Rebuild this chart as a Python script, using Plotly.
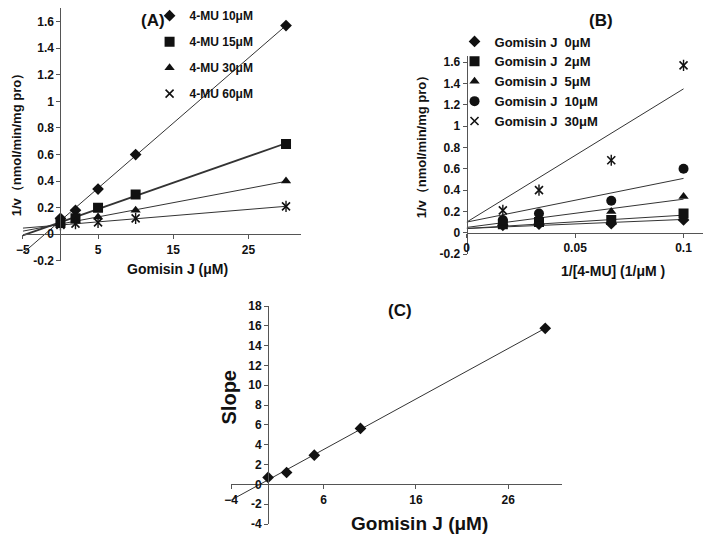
import numpy as np
import plotly.graph_objects as go

# ---------------- data ----------------
gomisin_conc = [0, 2, 5, 10, 30]          # µM
mu_conc = [10, 15, 30, 60]                # 4-MU µM
mu_labels = ["4-MU 10μM", "4-MU 15μM", "4-MU 30μM", "4-MU 60μM"]
gj_labels = ["Gomisin J\u00a0 0μM", "Gomisin J\u00a0 2μM", "Gomisin J\u00a0 5μM",
             "Gomisin J\u00a0 10μM", "Gomisin J\u00a0 30μM"]

# 1/v values (rows follow gomisin_conc) for each 4-MU concentration
inv_v_mu10 = [0.12, 0.18, 0.34, 0.60, 1.57]
inv_v_mu15 = [0.085, 0.12, 0.20, 0.30, 0.68]
inv_v_mu30 = [0.08, 0.10, 0.13, 0.18, 0.40]
inv_v_mu60 = [0.07, 0.08, 0.09, 0.12, 0.21]

# straight lines drawn in panel B (intercept, slope) per Gomisin J level
b_line_intercepts = [0.04, 0.04, 0.05, 0.10, 0.10]
b_line_slopes = [0.85, 1.25, 2.65, 4.1, 12.5]

# panel C: slopes of the Lineweaver-Burk lines
slope_values = [0.7, 1.2, 2.95, 5.65, 15.75]

# tick labels
a_xticks = [-5, 5, 15, 25]
a_yticks = [-0.2, 0, 0.2, 0.4, 0.6, 0.8, 1.0, 1.2, 1.4, 1.6]
a_yticktext = ["-0.2", "0", "0.2", "0.4", "0.6", "0.8", "1", "1.2", "1.4", "1.6"]
b_xticks = [0, 0.05, 0.1]
b_xticktext = ["0", "0.05", "0.1"]
c_xticks = [-4, 6, 16, 26]
c_yticks = [-4, -2, 0, 2, 4, 6, 8, 10, 12, 14, 16, 18]
c_yticktext = [str(v) for v in c_yticks]

# ---------------- layout geometry ----------------
W, H = 708, 544
A_xr, A_yr = [-5, 32], [-0.2, 1.7]
B_xr, B_yr = [0, 0.109], [-0.2, 1.66]
C_xr, C_yr = [-4, 31.8], [-4, 18]
A_xd, A_yd = [16 / W, 297 / W], [1 - 260.6 / H, 1 - 1.3 / H]
B_xd, B_yd = [464.3 / W, 703 / W], [1 - 253.6 / H, 1 - 50.1 / H]
C_xd, C_yd = [226.4 / W, 560.4 / W], [1 - 530.7 / H, 1 - 306.9 / H]


def frac(v, rng, dom):
    return dom[0] + (v - rng[0]) / (rng[1] - rng[0]) * (dom[1] - dom[0])


FONT = "Liberation Sans, Arial, sans-serif"
INK = "#111111"
LINE = "#333333"

series_a = [inv_v_mu10, inv_v_mu15, inv_v_mu30, inv_v_mu60]
sym_a = ["diamond", "square", "triangle-up", "x-thin-open"]
size_a = [9, 10, 9, 8]
lw_a = [1, 1.8, 1, 1]

fig = go.Figure()

# ---------------- panel A ----------------
xs = np.array(gomisin_conc, dtype=float)
for i, ys in enumerate(series_a):
    k, b = np.polyfit(xs, np.array(ys), 1)
    lx = np.array([A_xr[0], max(gomisin_conc)])
    fig.add_trace(go.Scatter(x=lx, y=k * lx + b, mode="lines", xaxis="x", yaxis="y",
                             line=dict(color=LINE, width=lw_a[i]), showlegend=False,
                             hoverinfo="skip"))
for i, ys in enumerate(series_a):
    star = sym_a[i] == "x-thin-open"
    fig.add_trace(go.Scatter(x=gomisin_conc, y=ys, mode="markers", xaxis="x", yaxis="y",
                             name=mu_labels[i], legend="legend", legendgroup="a%d" % i,
                             marker=dict(symbol=sym_a[i], size=size_a[i], color=INK,
                                         line=dict(color=INK, width=1.6 if star else 0))))
    if star:
        fig.add_trace(go.Scatter(x=gomisin_conc, y=ys, mode="markers", xaxis="x", yaxis="y",
                                 legendgroup="a%d" % i, showlegend=False,
                                 marker=dict(symbol="line-ns-open", size=size_a[i], color=INK,
                                             line=dict(color=INK, width=1.4))))

# ---------------- panel B ----------------
inv_mu = [1.0 / c for c in mu_conc]
sym_b = ["diamond", "square", "triangle-up", "circle", "x-thin-open"]
size_b = [9, 10, 9, 10, 8]
for j in range(len(gomisin_conc)):
    lx = np.array([0.0, max(inv_mu)])
    fig.add_trace(go.Scatter(x=lx, y=b_line_intercepts[j] + b_line_slopes[j] * lx,
                             mode="lines", xaxis="x2", yaxis="y2",
                             line=dict(color=LINE, width=1), showlegend=False,
                             hoverinfo="skip"))
for j in range(len(gomisin_conc)):
    ys = [s[j] for s in series_a]
    star = sym_b[j] == "x-thin-open"
    fig.add_trace(go.Scatter(x=inv_mu, y=ys, mode="markers", xaxis="x2", yaxis="y2",
                             name=gj_labels[j], legend="legend2", legendgroup="b%d" % j,
                             marker=dict(symbol=sym_b[j], size=size_b[j], color=INK,
                                         line=dict(color=INK, width=1.6 if star else 0))))
    if star:
        fig.add_trace(go.Scatter(x=inv_mu, y=ys, mode="markers", xaxis="x2", yaxis="y2",
                                 legendgroup="b%d" % j, showlegend=False,
                                 marker=dict(symbol="line-ns-open", size=size_b[j], color=INK,
                                             line=dict(color=INK, width=1.4))))

# ---------------- panel C ----------------
kc, bc = np.polyfit(xs, np.array(slope_values), 1)
lx = np.array([C_xr[0], max(gomisin_conc)])
fig.add_trace(go.Scatter(x=lx, y=kc * lx + bc, mode="lines", xaxis="x3", yaxis="y3",
                         line=dict(color=LINE, width=1), showlegend=False, hoverinfo="skip"))
fig.add_trace(go.Scatter(x=gomisin_conc, y=slope_values, mode="markers", xaxis="x3", yaxis="y3",
                         showlegend=False, marker=dict(symbol="diamond", size=9, color=INK)))


def axis(dom, rng, pos, tickvals, ticktext=None, size=12):
    d = dict(domain=dom, range=rng, anchor="free", position=pos, tickvals=tickvals,
             showline=True, linecolor="#555555", linewidth=1, showgrid=False,
             zeroline=False, ticks="outside", ticklen=4, tickcolor="#555555",
             tickfont=dict(family=FONT, size=size, color=INK, weight="bold"))
    if ticktext is not None:
        d["ticktext"] = ticktext
    return d


layout = dict(
    width=W, height=H, margin=dict(l=0, r=0, t=0, b=0),
    paper_bgcolor="white", plot_bgcolor="white", showlegend=True,
    xaxis=axis(A_xd, A_xr, frac(0, A_yr, A_yd), a_xticks),
    yaxis=axis(A_yd, A_yr, frac(0, A_xr, A_xd), a_yticks, a_yticktext),
    xaxis2=axis(B_xd, B_xr, frac(0, B_yr, B_yd), b_xticks, b_xticktext),
    yaxis2=axis(B_yd, B_yr, frac(0, B_xr, B_xd), a_yticks, a_yticktext),
    xaxis3=axis(C_xd, C_xr, frac(0, C_yr, C_yd), c_xticks, None, 12),
    yaxis3=axis(C_yd, C_yr, frac(0, C_xr, C_xd), c_yticks, c_yticktext, 12),
    legend=dict(x=144 / W, y=1 + 6 / H, xanchor="left", yanchor="top",
                bgcolor="rgba(0,0,0,0)", tracegroupgap=7,
                font=dict(family=FONT, size=12, color=INK, weight="bold")),
    legend2=dict(x=452 / W, y=1 - 20 / H, xanchor="left", yanchor="top",
                 bgcolor="rgba(0,0,0,0)", tracegroupgap=0,
                 font=dict(family=FONT, size=13, color=INK, weight="bold")),
)
fig.update_layout(**layout)


def note(text, px, py, size, angle=0):
    fig.add_annotation(text=text, x=px / W, y=1 - py / H, xref="paper", yref="paper",
                       xanchor="center", yanchor="middle", showarrow=False, textangle=angle,
                       font=dict(family=FONT, size=size, color=INK, weight="bold"))


note("(A)", 147, 14, 17)
note("(B)", 600, 14, 17)
note("(C)", 397, 312, 17)
note("1/v（nmol/min/mg pro）", 10, 138, 13, -90)
note("Gomisin J (μM)", 172, 269, 14)
note("1/v（nmol/min/mg pro）", 419, 140, 13, -90)
note("1/[4-MU] (1/μM )", 612, 271, 14)
note("Slope", 224, 401, 20, -90)
note("Gomisin J (μM)", 417, 530, 19)

fig.write_html("out.html", config={"displayModeBar": False},
               post_script="document.body.style.margin='0';")
